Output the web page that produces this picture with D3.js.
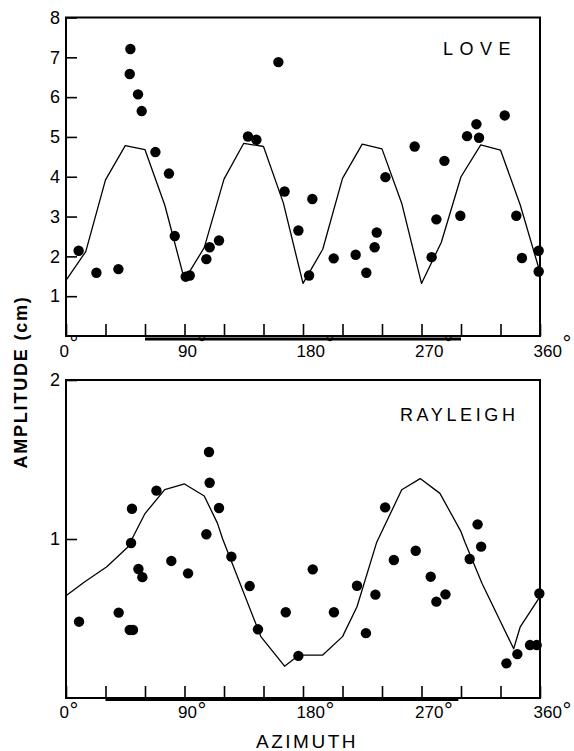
<!DOCTYPE html>
<html>
<head>
<meta charset="utf-8">
<script src="https://cdn.jsdelivr.net/npm/d3@7"></script>
<style>
  html, body { margin: 0; padding: 0; background: #fff; }
  svg { display: block; }
  text { font-family: "Liberation Sans", Arial, sans-serif; fill: #000; }
</style>
</head>
<body>
<svg id="chart" width="574" height="751"></svg>
<script>
// ---- Love waves: observed amplitudes ----
const loveAzimuth   = [9.6, 23.1, 39.8, 48.9, 48.4, 54.7, 57.5, 67.9, 78.2, 82.6, 90.9, 94.0, 106.6, 109.1, 116.2,
                       138.2, 144.6, 161.3, 166.0, 176.5, 184.6, 187.1, 203.3, 220.0, 228.1, 234.4, 236.0, 242.6,
                       264.8, 277.7, 281.3, 287.4, 299.5, 304.6, 311.7, 313.7, 333.2, 342.0, 346.3, 359.0, 359.0];
const loveAmplitude = [2.14, 1.59, 1.68, 7.21, 6.58, 6.07, 5.65, 4.62, 4.08, 2.51, 1.49, 1.52, 1.93, 2.23, 2.40,
                       5.01, 4.93, 6.88, 3.63, 2.65, 1.52, 3.44, 1.95, 2.04, 1.59, 2.23, 2.60, 3.99,
                       4.76, 1.98, 2.93, 4.40, 3.02, 5.02, 5.32, 4.98, 5.54, 3.02, 1.96, 2.14, 1.62];

// ---- Love waves: model curve ----
const loveModelAzimuth   = [0, 15, 30, 45, 60, 75, 90, 105, 120, 135, 150, 165, 180,
                            195, 210, 225, 240, 255, 270, 285, 300, 315, 330, 345, 360];
const loveModelAmplitude = [1.40, 2.12, 3.92, 4.78, 4.68, 3.29, 1.41, 2.22, 3.94, 4.84, 4.76, 3.35, 1.32,
                            2.18, 3.96, 4.82, 4.70, 3.33, 1.32, 2.35, 4.00, 4.80, 4.67, 3.29, 1.60];

// ---- Rayleigh waves: observed amplitudes ----
const rayleighAzimuth   = [9.9, 40.0, 48.4, 50.9, 49.4, 50.1, 55.0, 58.0, 68.7, 80.0, 92.7, 106.6, 108.6, 109.1,
                           116.2, 125.6, 139.5, 145.8, 166.9, 176.5, 187.4, 203.5, 221.0, 227.8, 235.0, 242.4,
                           249.0, 265.6, 277.0, 281.3, 288.2, 306.6, 312.6, 315.3, 334.5, 342.8, 352.4, 357.5, 359.5];
const rayleighAmplitude = [0.48, 0.537, 0.428, 0.428, 0.975, 1.19, 0.811, 0.76, 1.304, 0.862, 0.784, 1.03, 1.547, 1.354,
                           1.195, 0.889, 0.704, 0.432, 0.539, 0.265, 0.809, 0.539, 0.706, 0.408, 0.65, 1.199,
                           0.868, 0.926, 0.763, 0.606, 0.652, 0.874, 1.092, 0.952, 0.218, 0.276, 0.333, 0.333, 0.657];

// ---- Rayleigh waves: model curve ----
const rayleighModelAzimuth   = [0, 14, 31, 47, 60, 75, 90, 105, 115, 119, 148, 166, 177, 195,
                                210, 221, 236, 255, 269, 284, 300, 303, 316, 340, 345, 360];
const rayleighModelAmplitude = [0.643, 0.73, 0.826, 0.95, 1.16, 1.31, 1.346, 1.27, 1.10, 1.0, 0.386, 0.20, 0.27, 0.27,
                                0.386, 0.574, 0.98, 1.31, 1.38, 1.287, 1.046, 0.98, 0.72, 0.31, 0.448, 0.637];

// Azimuth range covered by the stations (thick bar under each axis)
const loveCoverage     = [60, 300];
const rayleighCoverage = [30, 298];

// Axis ticks
const azimuthTicks       = [0, 30, 60, 90, 120, 150, 180, 210, 240, 270, 300, 330, 360];
const azimuthLabels      = [0, 90, 180, 270, 360];
const loveAmpTicks       = [1, 2, 3, 4, 5, 6, 7, 8];
const rayleighAmpTicks   = [1, 2];

const svg = d3.select("#chart");
const x = d3.scaleLinear().domain([0, 360]).range([66, 540]);

function panel(cfg) {
  const g = svg.append("g");
  const y = cfg.y;
  const [y0, y1] = y.range();

  // x ticks pointing up into the plot
  const xAxis = d3.axisBottom(x)
    .tickValues(azimuthTicks)
    .tickSizeInner(-12)
    .tickSizeOuter(0)
    .tickFormat(d => azimuthLabels.includes(d) ? String(d) : "");
  const gx = g.append("g").attr("transform", `translate(0,${y0})`).call(xAxis);
  gx.select(".domain").remove();
  gx.selectAll(".tick line").attr("stroke", "#000").attr("stroke-width", 1.6);
  gx.selectAll(".tick text")
    .attr("text-anchor", "start")
    .attr("x", -7)
    .attr("y", 0)
    .attr("dy", 0)
    .attr("transform", `translate(0,${cfg.labelBaseline})`)
    .style("font-size", "17px")
    .style("font-family", "'Liberation Sans', Arial, sans-serif")
    .each(function(d) {
      if (!azimuthLabels.includes(d)) return;
      d3.select(this).append("tspan")
        .attr("dy", cfg.degRaise)
        .attr("dx", 0.5)
        .style("font-size", "22px")
        .text("°");
    });

  // y ticks pointing right into the plot
  const yAxis = d3.axisLeft(y)
    .tickValues(cfg.yTicks)
    .tickSizeInner(-11)
    .tickSizeOuter(0)
    .tickPadding(6)
    .tickFormat(d3.format("d"));
  const gy = g.append("g").attr("transform", `translate(${x(0)},0)`).call(yAxis);
  gy.select(".domain").remove();
  gy.selectAll(".tick line").attr("stroke", "#000").attr("stroke-width", 1.6);
  gy.selectAll(".tick text")
    .style("font-size", "18px")
    .style("font-family", "'Liberation Sans', Arial, sans-serif");

  // coverage bar
  g.append("line")
    .attr("x1", x(cfg.coverage[0])).attr("x2", x(cfg.coverage[1]))
    .attr("y1", y0 + cfg.barOffset).attr("y2", y0 + cfg.barOffset)
    .attr("stroke", "#000").attr("stroke-width", 3);

  // frame
  g.append("rect")
    .attr("x", x(0)).attr("y", y1)
    .attr("width", x(360) - x(0)).attr("height", y0 - y1)
    .attr("fill", "none").attr("stroke", "#000").attr("stroke-width", 2);

  // model curve
  const line = d3.line().x(d => x(d[0])).y(d => y(d[1]));
  g.append("path")
    .datum(d3.zip(cfg.modelAz, cfg.modelAmp))
    .attr("d", line)
    .attr("fill", "none").attr("stroke", "#000").attr("stroke-width", 1.3)
    .attr("stroke-linejoin", "round");

  // observations
  g.selectAll("circle.obs")
    .data(d3.zip(cfg.az, cfg.amp))
    .join("circle")
    .attr("class", "obs")
    .attr("cx", d => x(d[0]))
    .attr("cy", d => y(d[1]))
    .attr("r", 5.2)
    .attr("fill", "#000");

  // wave type
  g.append("text")
    .attr("x", cfg.titleX).attr("y", cfg.titleY)
    .style("font-size", cfg.titleSize + "px")
    .style("letter-spacing", cfg.titleSpacing + "px")
    .text(cfg.title);
}

panel({
  y: d3.scaleLinear().domain([0, 8]).range([336, 17.5]),
  yTicks: loveAmpTicks,
  az: loveAzimuth, amp: loveAmplitude,
  modelAz: loveModelAzimuth, modelAmp: loveModelAmplitude,
  coverage: loveCoverage, barOffset: 3,
  labelBaseline: 21, degRaise: -6.5,
  title: "LOVE", titleX: 443, titleY: 55, titleSize: 18, titleSpacing: 6.5
});

panel({
  y: d3.scaleLinear().domain([0, 2]).range([698, 380]),
  yTicks: rayleighAmpTicks,
  az: rayleighAzimuth, amp: rayleighAmplitude,
  modelAz: rayleighModelAzimuth, modelAmp: rayleighModelAmplitude,
  coverage: rayleighCoverage, barOffset: 1.5,
  labelBaseline: 20, degRaise: -0.5,
  title: "RAYLEIGH", titleX: 400, titleY: 421, titleSize: 18, titleSpacing: 3.6
});

// axis titles
svg.append("text")
  .attr("transform", "translate(27,382) rotate(-90)")
  .attr("text-anchor", "middle")
  .style("font-size", "18px")
  .style("font-weight", "bold")
  .style("letter-spacing", "1.8px")
  .text("AMPLITUDE (cm)");

svg.append("text")
  .attr("x", 307).attr("y", 748)
  .attr("text-anchor", "middle")
  .style("font-size", "19px")
  .style("letter-spacing", "2.5px")
  .text("AZIMUTH");
</script>
</body>
</html>
